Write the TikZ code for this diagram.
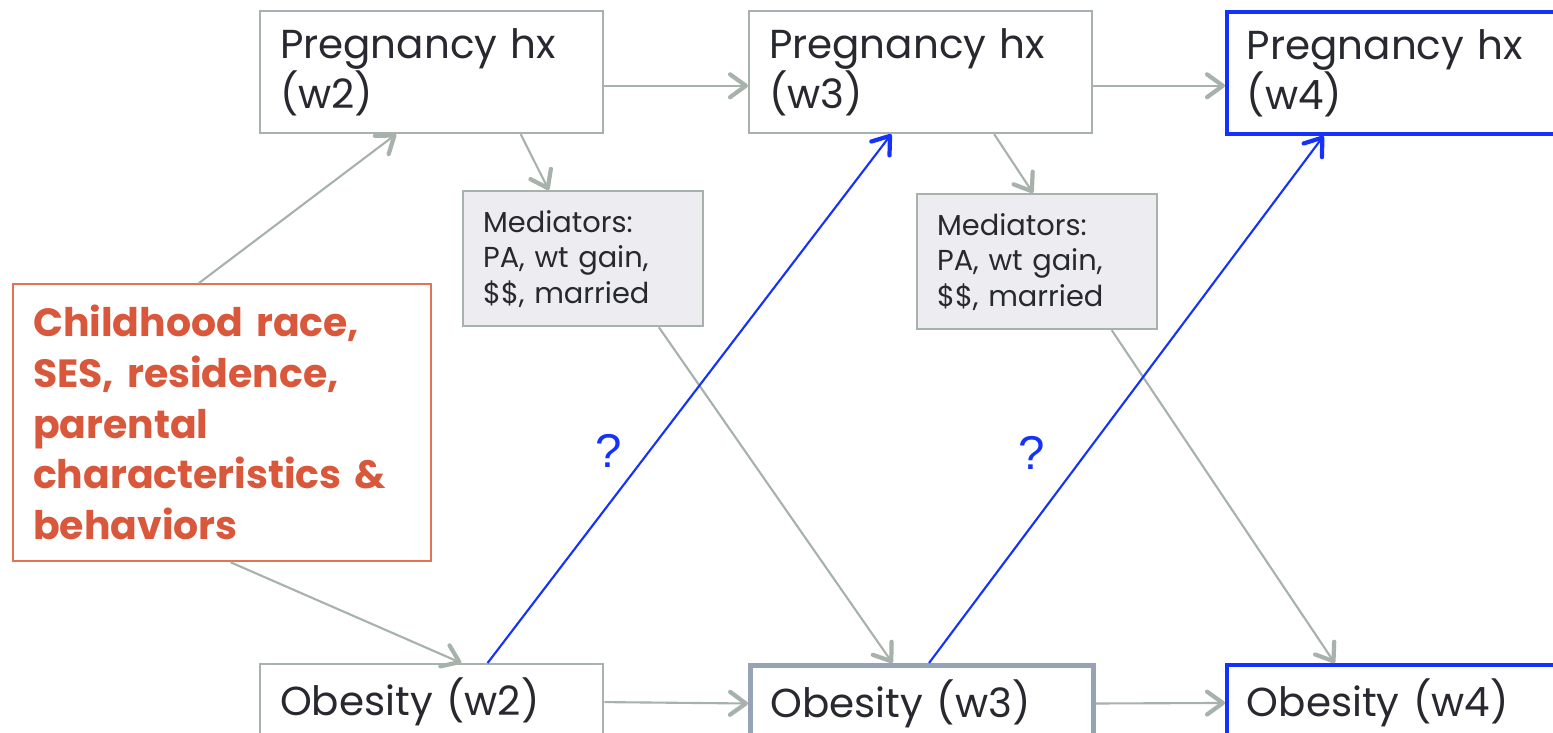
\documentclass[tikz,border=0pt]{standalone}
\usepackage{fontspec}
\setmainfont{Poppins}
\newfontfamily\qfont{Liberation Sans}
\usetikzlibrary{arrows.meta}
\usetikzlibrary{calc}

\definecolor{linkgray}{RGB}{166,178,171}
\definecolor{medfill}{RGB}{236,236,241}
\definecolor{causeorange}{RGB}{217,88,60}
\definecolor{causeedge}{RGB}{226,115,85}
\definecolor{keyblue}{RGB}{20,50,250}
\definecolor{slate}{RGB}{150,163,182}
\definecolor{ink}{RGB}{40,40,48}

\begin{document}
\begin{tikzpicture}[
  x=0.01cm,y=-0.01cm,
  box/.style={draw=linkgray,line width=0.6pt,anchor=north west,align=left,
    text=ink,inner xsep=0.2cm,inner ysep=0pt,font=\fontsize{11.5}{14.2}\selectfont},
  wavebox/.style={box,text width=3.03cm,minimum height=1.22cm},
  obesbox/.style={box,text width=3.03cm,minimum height=0.76cm},
  medbox/.style={box,fill=medfill,text width=2.0cm,minimum height=1.35cm,
    font=\fontsize{8.2}{10.1}\selectfont},
  causebox/.style={draw=causeedge,line width=0.6pt,anchor=north west,align=left,
    text=causeorange,inner xsep=0.2cm,text width=3.78cm,minimum height=2.77cm,
    font=\fontsize{11.2}{14.4}\selectfont\bfseries},
  link/.style={draw=linkgray,line width=0.6pt,
    -{Straight Barb[length=4.5pt,width=6.5pt,line width=1.2pt,round]}},
  query/.style={draw=keyblue,line width=0.6pt,
    -{Straight Barb[length=4.5pt,width=6.5pt,line width=1.2pt,round]}},
  qmark/.style={text=keyblue,font=\qfont\fontsize{13.5}{14}\selectfont}
]
  \clip (0,0) rectangle (1553,732);
  \fill[white] (0,0) rectangle (1553,732);

  \def\colA{259}
  \def\colB{748}
  \def\colC{1225}

  % pregnancy history boxes
  \node[wavebox] (pregA) at (\colA,10) {Pregnancy hx\\(w2)};
  \node[wavebox] (pregB) at (\colB,10) {Pregnancy hx\\(w3)};
  \node[wavebox,draw=keyblue,line width=1.1pt] (pregC) at (\colC,10) {Pregnancy hx\\(w4)};

  % mediators
  \node[medbox] (medA) at (462,190) {Mediators:\\PA, wt gain,\\\$\$, married};
  \node[medbox] (medB) at (916,193) {Mediators:\\PA, wt gain,\\\$\$, married};

  % childhood factors
  \node[causebox] (child) at (12,283) {Childhood race,\\SES, residence,\\parental\\characteristics \&\\behaviors};

  % obesity boxes
  \node[obesbox] (obesA) at (\colA,663) {Obesity (w2)};
  \node[obesbox,draw=slate,line width=1.4pt] (obesB) at (\colB,663) {Obesity (w3)};
  \node[obesbox,draw=keyblue,line width=1.1pt] (obesC) at (\colC,663) {Obesity (w4)};

  \node[qmark] (qA) at (609,451) {?};
  \node[qmark] (qB) at (1032,453) {?};

  % across waves
  \draw[link] ($(pregA.north east)!0.61!(pregA.south east)$) coordinate (pa) -- (pa -| pregB.west);
  \draw[link] ($(pregB.north east)!0.61!(pregB.south east)$) coordinate (pb) -- (pb -| pregC.west);
  \draw[link] (obesA.east) -- (obesB.west);
  \draw[link] (obesB.east) -- (obesC.west);

  % childhood factors
  \draw[link] ($(child.north west)!0.445!(child.north east)$) -- ($(pregA.south west)!0.397!(pregA.south east)$);
  \draw[link] ($(child.south west)!0.52!(child.south east)$) -- ($(obesA.north west)!0.586!(obesA.north east)$);

  % through mediators
  \draw[link] ($(pregA.south west)!0.758!(pregA.south east)$) -- ($(medA.north west)!0.358!(medA.north east)$);
  \draw[link] ($(pregB.south west)!0.713!(pregB.south east)$) -- ($(medB.north west)!0.483!(medB.north east)$);
  \draw[link] ($(medA.south west)!0.8125!(medA.south east)$) -- ($(obesB.north west)!0.415!(obesB.north east)$);
  \draw[link] ($(medB.south west)!0.808!(medB.south east)$) -- ($(obesC.north west)!0.316!(obesC.north east)$);

  % obesity to later pregnancy
  \draw[query] ($(obesA.north west)!0.662!(obesA.north east)$) -- ($(pregB.south west)!0.415!(pregB.south east)$);
  \draw[query] ($(obesB.north west)!0.52!(obesB.north east)$) -- ($(pregC.south west)!0.284!(pregC.south east)$);
\end{tikzpicture}
\end{document}
